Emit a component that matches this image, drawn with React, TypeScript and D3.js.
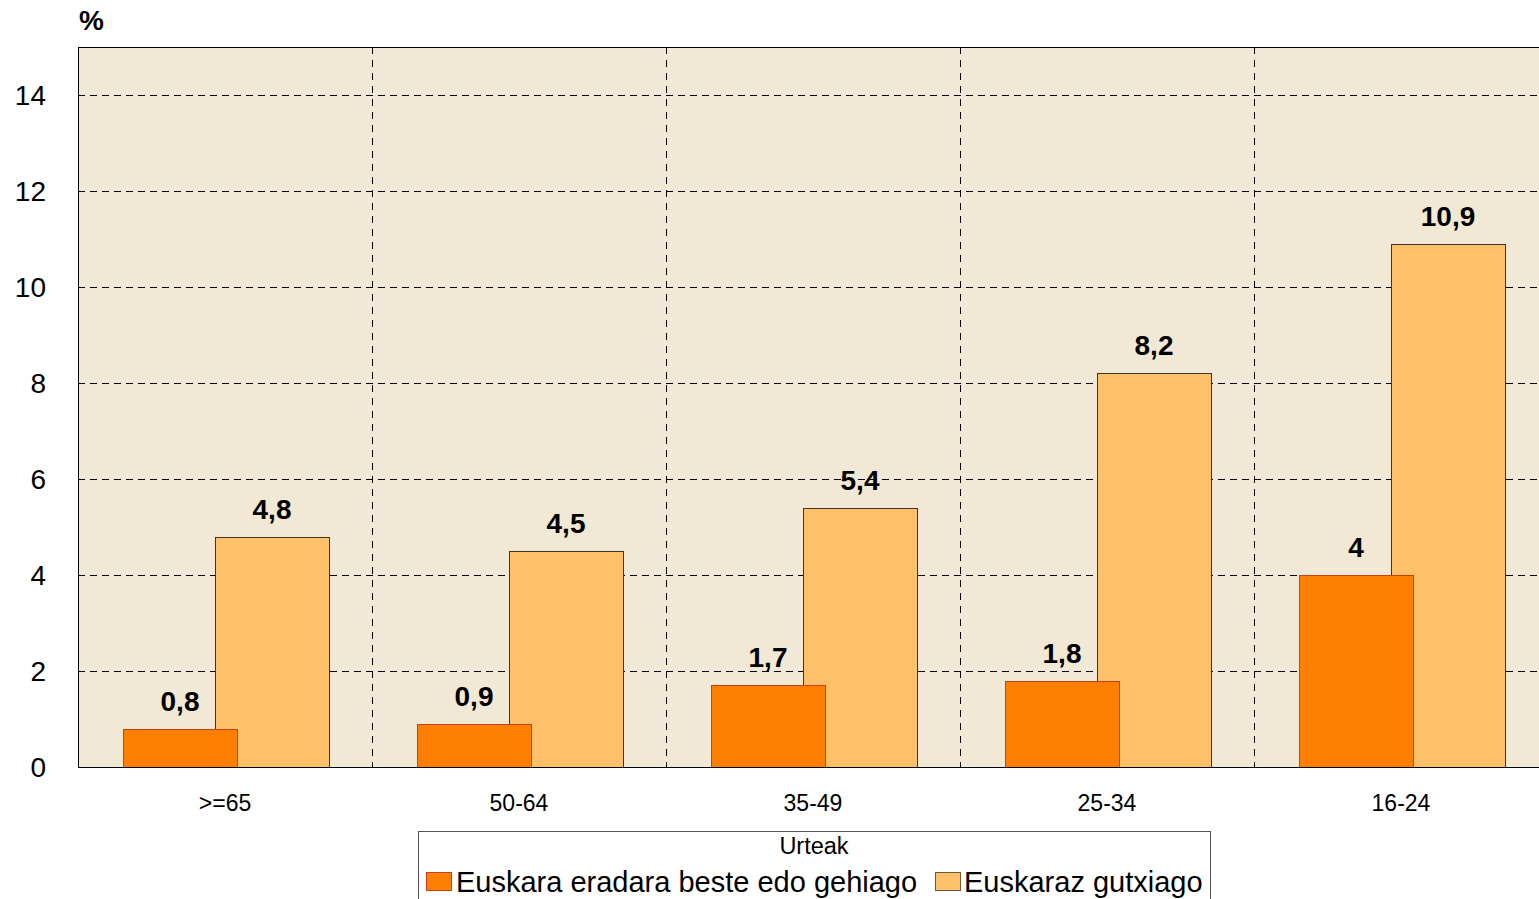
import React from "react";
import * as d3 from "d3";

const categories = [">=65", "50-64", "35-49", "25-34", "16-24"];
const seriesNames = ["Euskara eradara beste edo gehiago", "Euskaraz gutxiago"];
const seriesA = [0.8, 0.9, 1.7, 1.8, 4];
const seriesB = [4.8, 4.5, 5.4, 8.2, 10.9];
const yTicks = [0, 2, 4, 6, 8, 10, 12, 14];
const colors = ["#FF8000", "#FFC06A"];
const strokes = ["#C8401A", "#3E3428"];

const W = 1539, H = 899;
const left = 78, top = 47, bottom = 767;
const catW = 294;
const right = left + catW * categories.length;

export default function App() {
  const y = d3.scaleLinear().domain([0, 15]).range([bottom, top]);
  const x = d3.scaleBand().domain(categories).range([left, right]).padding(0);
  const fmt = (v: number) => String(v).replace(".", ",");
  const barW = 114;
  const offs = [-45, 47];
  const series = [seriesA, seriesB];
  const drawOrder = [1, 0];
  return (
    <svg width={W} height={H} style={{ position: "absolute", left: 0, top: 0, fontFamily: "Liberation Sans, Arial, sans-serif" }}>
      <rect x={0} y={0} width={W} height={H} fill="#fff" />
      <rect x={left} y={top} width={right - left} height={bottom - top} fill="#F1E8D5" />
      {yTicks.filter(t => t > 0).map(t => (
        <line key={"g" + t} x1={left} x2={right} y1={Math.round(y(t)) + 0.5} y2={Math.round(y(t)) + 0.5} stroke="#000" strokeWidth={1} strokeDasharray="7,5" />
      ))}
      {categories.slice(1).map(c => (
        <line key={"v" + c} x1={x(c)! + 0.5} x2={x(c)! + 0.5} y1={top} y2={bottom} stroke="#000" strokeWidth={1} strokeDasharray="7,6" />
      ))}
      <line x1={left} x2={right} y1={top + 0.5} y2={top + 0.5} stroke="#000" strokeWidth={1} />
      <line x1={left + 0.5} x2={left + 0.5} y1={top} y2={bottom} stroke="#000" strokeWidth={1} />
      {drawOrder.map(si =>
        series[si].map((v, i) => {
          const cx = x(categories[i])! + catW / 2 + offs[si];
          return (
            <rect key={si + "-" + i} x={cx - barW / 2 + 0.5} y={Math.round(y(v)) + 0.5} width={barW} height={bottom - Math.round(y(v))} fill={colors[si]} stroke={strokes[si]} strokeWidth={1} />
          );
        })
      )}
      {series.map((s, si) =>
        s.map((v, i) => {
          const cx = x(categories[i])! + catW / 2 + offs[si];
          return (
            <text key={"l" + si + "-" + i} x={cx} y={y(v) - 18} textAnchor="middle" fontSize={28} fontWeight="bold" fill="#000">{fmt(v)}</text>
          );
        })
      )}
      <line x1={left} x2={right} y1={bottom + 0.5} y2={bottom + 0.5} stroke="#000" strokeWidth={1} />
      {yTicks.map(t => (
        <text key={"t" + t} x={46} y={y(t) + 10} textAnchor="end" fontSize={28} fill="#000">{t}</text>
      ))}
      {categories.map(c => (
        <text key={"c" + c} x={x(c)! + catW / 2} y={811} textAnchor="middle" fontSize={23} fill="#000">{c}</text>
      ))}
      <text x={79} y={30} fontSize={28} fontWeight="bold" fill="#000">%</text>
      <rect x={418.5} y={831.5} width={792} height={80} fill="#fff" stroke="#555" strokeWidth={1} />
      <text x={814} y={854} textAnchor="middle" fontSize={23.5} fill="#000">Urteak</text>
      <rect x={426.5} y={872.5} width={25} height={18} fill={colors[0]} stroke={strokes[0]} />
      <text x={456} y={892} fontSize={29} fill="#000">{seriesNames[0]}</text>
      <rect x={935.5} y={872.5} width={25} height={18} fill={colors[1]} stroke="#6E5A3C" />
      <text x={964} y={892} fontSize={29} fill="#000">{seriesNames[1]}</text>
    </svg>
  );
}
